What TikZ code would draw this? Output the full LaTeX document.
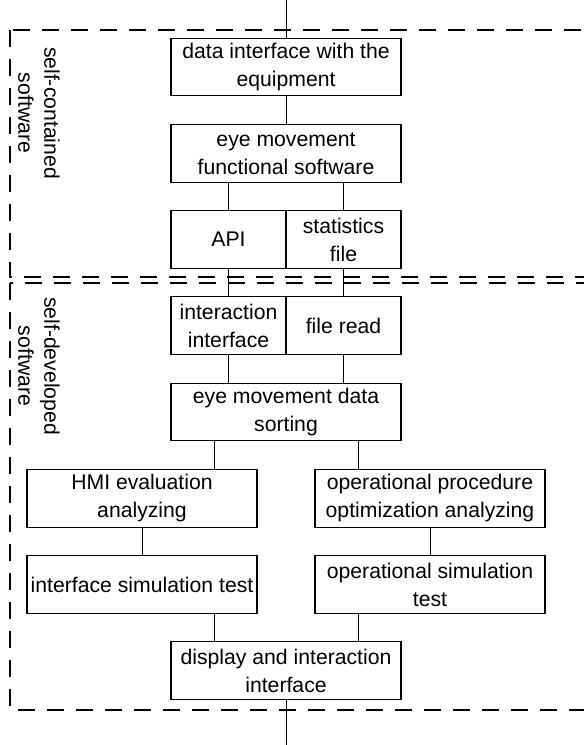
\documentclass[tikz,border=0pt]{standalone}
\usepackage{fontspec}
\setmainfont{Liberation Sans}
\usetikzlibrary{calc}
\tikzset{
  swbox/.style={rectangle, draw=black, line width=0.6pt, minimum width=115pt,
                minimum height=28.75pt, inner sep=1pt, align=center,
                font=\fontsize{10.6}{14}\selectfont},
  swhalf/.style={swbox, minimum width=57.5pt},
  swwire/.style={line width=0.45pt},
  swzone/.style={line width=1.3pt, dash pattern=on 8.5pt off 6pt},
  swlab/.style={rotate=-90, align=center, font=\fontsize{10.6}{13}\selectfont}
}
\begin{document}
\begin{tikzpicture}[x=0.5pt, y=-0.5pt]
  \useasboundingbox (0,0) rectangle (584,745);
  % the two software zones
  \draw[swzone] (10,30) rectangle (585,277);
  \draw[swzone] (10,283) rectangle (585,710);
  \node[swlab] (zonec) at (39,113) {self-contained\\software};
  \node[swlab] (zoned) at (39,366) {self-developed\\software};
  % blocks
  \node[swbox] (dif) at (286,67) {data interface with the\\equipment};
  \node[swbox] (emf) at (286,153.5) {eye movement\\functional software};
  \node[swhalf] (api) at (228.5,239.5) {API};
  \node[swhalf] (stat) at (343.5,239.5) {statistics\\file};
  \node[swhalf] (iif) at (228.5,325.5) {interaction\\interface};
  \node[swhalf] (frd) at (343.5,325.5) {file read};
  \node[swbox] (sort) at (286,412) {eye movement data\\sorting};
  \node[swbox] (hmi) at (142,498.5) {HMI evaluation\\analyzing};
  \node[swbox] (opt) at (430,498.5) {operational procedure\\optimization analyzing};
  \node[swbox] (ist) at (142,584.5) {interface simulation test};
  \node[swbox] (ost) at (430,584.5) {operational simulation\\test};
  \node[swbox] (disp) at (286,670.5) {display and interaction\\interface};
  % wires
  \coordinate (top) at (286,0);
  \coordinate (bot) at (286,745);
  \draw[swwire] (top) -- (dif);
  \draw[swwire] (dif) -- (emf);
  \draw[swwire] (api) -- (api |- emf.south);
  \draw[swwire] (stat) -- (stat |- emf.south);
  \draw[swwire] (api) -- (iif);
  \draw[swwire] (stat) -- (frd);
  \draw[swwire] (iif) -- (iif |- sort.north);
  \draw[swwire] (frd) -- (frd |- sort.north);
  \coordinate (sl) at ($(sort.south west)!0.5!(hmi.north east)$);
  \coordinate (sr) at ($(sort.south east)!0.5!(opt.north west)$);
  \draw[swwire] (sl |- sort.south) -- (sl |- hmi.north);
  \draw[swwire] (sr |- sort.south) -- (sr |- opt.north);
  \draw[swwire] (hmi) -- (ist);
  \draw[swwire] (opt) -- (ost);
  \coordinate (dl) at ($(ist.south east)!0.5!(disp.north west)$);
  \coordinate (dr) at ($(ost.south west)!0.5!(disp.north east)$);
  \draw[swwire] (dl |- ist.south) -- (dl |- disp.north);
  \draw[swwire] (dr |- ost.south) -- (dr |- disp.north);
  \draw[swwire] (disp) -- (bot);
\end{tikzpicture}
\end{document}
